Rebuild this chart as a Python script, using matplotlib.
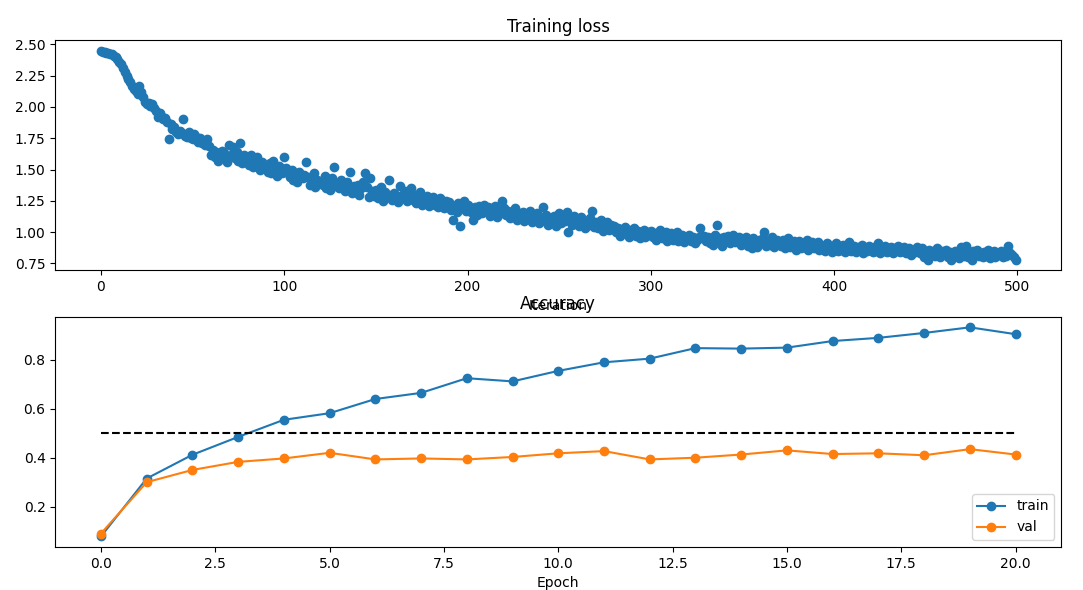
import numpy as np
import matplotlib
matplotlib.use("Agg")
import matplotlib.pyplot as plt

# loss per iteration (10 iterations per row)
loss_history = [
    2.45, 2.44, 2.44, 2.43, 2.43, 2.42, 2.42, 2.41, 2.40, 2.38,
    2.36, 2.34, 2.31, 2.28, 2.25, 2.22, 2.20, 2.17, 2.14, 2.13,
    2.10, 2.17, 2.12, 2.08, 2.04, 2.02, 2.03, 2.01, 2.02, 1.99,
    1.97, 1.92, 1.95, 1.93, 1.90, 1.91, 1.88, 1.74, 1.86, 1.82,
    1.84, 1.80, 1.78, 1.81, 1.79, 1.90, 1.77, 1.76, 1.80, 1.75,
    1.74, 1.78, 1.76, 1.72, 1.75, 1.71, 1.73, 1.70, 1.74, 1.69,
    1.62, 1.66, 1.60, 1.64, 1.57, 1.61, 1.65, 1.63, 1.58, 1.56,
    1.70, 1.62, 1.68, 1.59, 1.64, 1.57, 1.71, 1.55, 1.62, 1.58,
    1.58, 1.54, 1.62, 1.52, 1.57, 1.60, 1.53, 1.50, 1.56, 1.52,
    1.52, 1.48, 1.55, 1.47, 1.57, 1.50, 1.45, 1.53, 1.51, 1.47,
    1.60, 1.51, 1.47, 1.44, 1.50, 1.42, 1.46, 1.40, 1.48, 1.45,
    1.43, 1.46, 1.56, 1.44, 1.38, 1.41, 1.47, 1.36, 1.42, 1.40,
    1.41, 1.38, 1.45, 1.35, 1.40, 1.34, 1.43, 1.52, 1.37, 1.39,
    1.35, 1.42, 1.38, 1.33, 1.40, 1.36, 1.48, 1.31, 1.37, 1.34,
    1.38, 1.30, 1.35, 1.40, 1.47, 1.36, 1.28, 1.43, 1.33, 1.29,
    1.34, 1.27, 1.31, 1.36, 1.25, 1.32, 1.29, 1.42, 1.30, 1.26,
    1.31, 1.28, 1.24, 1.37, 1.30, 1.27, 1.33, 1.25, 1.29, 1.35,
    1.26, 1.30, 1.23, 1.28, 1.32, 1.22, 1.27, 1.24, 1.29, 1.21,
    1.25, 1.28, 1.22, 1.26, 1.20, 1.27, 1.23, 1.19, 1.25, 1.22,
    1.24, 1.18, 1.10, 1.21, 1.16, 1.23, 1.05, 1.20, 1.25, 1.17,
    1.22, 1.19, 1.16, 1.10, 1.20, 1.14, 1.21, 1.18, 1.15, 1.22,
    1.17, 1.20, 1.13, 1.19, 1.16, 1.21, 1.12, 1.18, 1.15, 1.25,
    1.19, 1.14, 1.17, 1.11, 1.16, 1.13, 1.19, 1.10, 1.15, 1.12,
    1.16, 1.09, 1.14, 1.11, 1.17, 1.08, 1.13, 1.10, 1.15, 1.07,
    1.12, 1.20, 1.09, 1.14, 1.06, 1.11, 1.08, 1.13, 1.05, 1.10,
    1.15, 1.07, 1.12, 1.09, 1.16, 1.00, 1.11, 1.06, 1.13, 1.08,
    1.10, 1.05, 1.12, 1.07, 1.03, 1.09, 1.06, 1.11, 1.17, 1.04,
    1.08, 1.03, 1.06, 1.10, 1.01, 1.05, 1.08, 1.02, 1.06, 1.04,
    1.05, 1.00, 1.03, 0.97, 1.02, 0.99, 1.04, 1.01, 0.96, 1.02,
    1.00, 1.03, 0.97, 1.01, 0.95, 0.99, 1.02, 0.96, 1.00, 0.98,
    1.01, 0.96, 0.99, 0.94, 0.98, 1.02, 0.95, 0.97, 1.00, 0.93,
    0.97, 0.99, 0.94, 0.96, 1.00, 0.93, 0.95, 0.98, 0.92, 0.96,
    0.95, 0.98, 0.93, 0.96, 0.91, 0.94, 0.96, 1.03, 0.95, 0.97,
    0.93, 0.96, 0.91, 0.94, 0.90, 0.98, 1.06, 0.92, 0.95, 0.89,
    0.96, 0.93, 0.97, 0.91, 0.95, 0.98, 0.92, 0.94, 0.96, 0.90,
    0.94, 0.92, 0.96, 0.89, 0.93, 0.87, 0.95, 0.91, 0.88, 0.94,
    0.92, 0.95, 1.00, 0.89, 0.93, 0.90, 0.96, 0.88, 0.92, 0.94,
    0.91, 0.89, 0.94, 0.87, 0.92, 0.95, 0.88, 0.90, 0.93, 0.86,
    0.90, 0.93, 0.87, 0.91, 0.88, 0.94, 0.86, 0.90, 0.92, 0.87,
    0.89, 0.92, 0.86, 0.90, 0.88, 0.85, 0.91, 0.87, 0.89, 0.84,
    0.88, 0.91, 0.85, 0.89, 0.86, 0.90, 0.84, 0.88, 0.92, 0.85,
    0.87, 0.89, 0.84, 0.88, 0.86, 0.90, 0.83, 0.87, 0.85, 0.89,
    0.86, 0.84, 0.88, 0.85, 0.91, 0.83, 0.87, 0.85, 0.89, 0.84,
    0.86, 0.88, 0.83, 0.87, 0.85, 0.89, 0.84, 0.86, 0.88, 0.83,
    0.85, 0.87, 0.82, 0.86, 0.84, 0.88, 0.85, 0.83, 0.87, 0.80,
    0.84, 0.78, 0.86, 0.82, 0.85, 0.81, 0.87, 0.83, 0.80, 0.85,
    0.83, 0.86, 0.80, 0.84, 0.78, 0.82, 0.85, 0.81, 0.79, 0.88,
    0.84, 0.81, 0.89, 0.80, 0.83, 0.78, 0.85, 0.82, 0.86, 0.81,
    0.83, 0.80, 0.84, 0.81, 0.86, 0.79, 0.82, 0.85, 0.80, 0.83,
    0.82, 0.85, 0.80, 0.84, 0.81, 0.89, 0.83, 0.82, 0.80, 0.78,
]

train_acc_history = [0.078, 0.315, 0.412, 0.485, 0.555, 0.582, 0.640,
                     0.665, 0.725, 0.712, 0.755, 0.790, 0.805, 0.848,
                     0.846, 0.850, 0.877, 0.890, 0.910, 0.933, 0.905]
val_acc_history = [0.090, 0.300, 0.350, 0.383, 0.397, 0.420, 0.393,
                   0.397, 0.393, 0.403, 0.418, 0.427, 0.393, 0.400,
                   0.413, 0.430, 0.415, 0.418, 0.410, 0.435, 0.413]
baseline = 0.5


def main():
    fig = plt.figure(figsize=(10.83, 5.9), dpi=100)
    fig.subplots_adjust(left=0.051, right=0.98, top=0.932, bottom=0.073,
                        hspace=0.203)

    plt.subplot(2, 1, 1)
    plt.title("Training loss")
    plt.plot(loss_history, "o")
    plt.xlabel("Iteration")

    plt.subplot(2, 1, 2)
    plt.title("Accuracy")
    plt.plot(train_acc_history, "-o", label="train")
    plt.plot(val_acc_history, "-o", label="val")
    plt.plot([baseline] * len(val_acc_history), "k--")
    plt.xlabel("Epoch")
    plt.legend(loc="lower right")

    plt.savefig("out.png", dpi=100)


if __name__ == "__main__":
    main()
